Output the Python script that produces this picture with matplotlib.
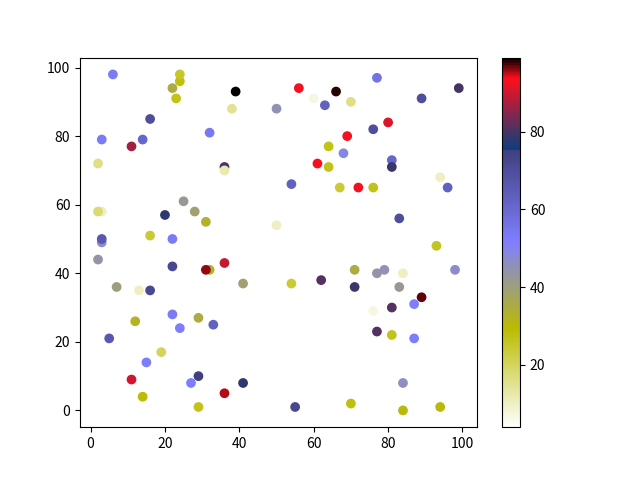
import matplotlib
matplotlib.use("Agg")
import matplotlib.pyplot as plt

plt.rcParams['font.family'] = ['Noto Sans CJK SC', 'DejaVu Sans']
plt.rcParams['axes.unicode_minus'] = False

x = [6, 24, 24, 22, 23, 39, 38, 50, 16, 32, 3, 14, 11, 2, 36, 36, 25, 28, 31, 20,
     3, 2, 50, 3, 3, 16, 22, 56, 60, 66, 63, 70, 77, 89, 99, 80, 76, 69, 64, 68,
     81, 81, 61, 64, 94, 96, 54, 67, 72, 76, 83, 2, 22, 32, 31, 36, 41, 7, 13, 16,
     22, 12, 29, 24, 33, 5, 19, 15, 9, 11, 29, 27, 41, 36, 14, 29, 93, 98, 54, 62,
     71, 71, 77, 79, 84, 83, 89, 87, 81, 76, 77, 81, 87, 84, 55, 70, 84, 94]
y = [98, 96, 98, 94, 91, 93, 88, 88, 85, 81, 79, 79, 77, 72, 71, 70, 61, 58, 55, 57,
     58, 58, 54, 49, 50, 51, 50, 94, 91, 93, 89, 90, 97, 91, 94, 84, 82, 80, 77, 75,
     73, 71, 72, 71, 68, 65, 66, 65, 65, 65, 56, 44, 42, 41, 41, 43, 37, 36, 35, 35,
     28, 26, 27, 24, 25, 21, 17, 14, 10, 9, 10, 8, 8, 5, 4, 1, 48, 41, 37, 38,
     41, 36, 40, 41, 40, 36, 33, 31, 30, 29, 23, 22, 21, 8, 1, 2, 0, 1]
c = [53, 28, 25, 35, 27, 99, 15, 45, 70, 54, 53, 61, 87, 16, 80, 12, 42, 39, 33, 78,
     10, 18, 10, 47, 66, 24, 53, 93, 7, 98, 63, 16, 56, 70, 80, 91, 70, 93, 27, 49,
     61, 79, 93, 27, 10, 63, 63, 24, 93, 27, 70, 44, 72, 33, 96, 89, 39, 40, 10, 72,
     53, 32, 35, 52, 63, 66, 20, 52, 4, 90, 75, 52, 78, 95, 29, 27, 26, 47, 24, 81,
     35, 79, 44, 45, 10, 42, 97, 52, 81, 7, 81, 27, 52, 46, 72, 28, 30, 30]

fig = plt.figure(figsize=(6.4, 4.8), dpi=100)
plt.scatter(x, y, c=c, cmap='gist_stern_r')
plt.colorbar()
plt.savefig("out.png")
